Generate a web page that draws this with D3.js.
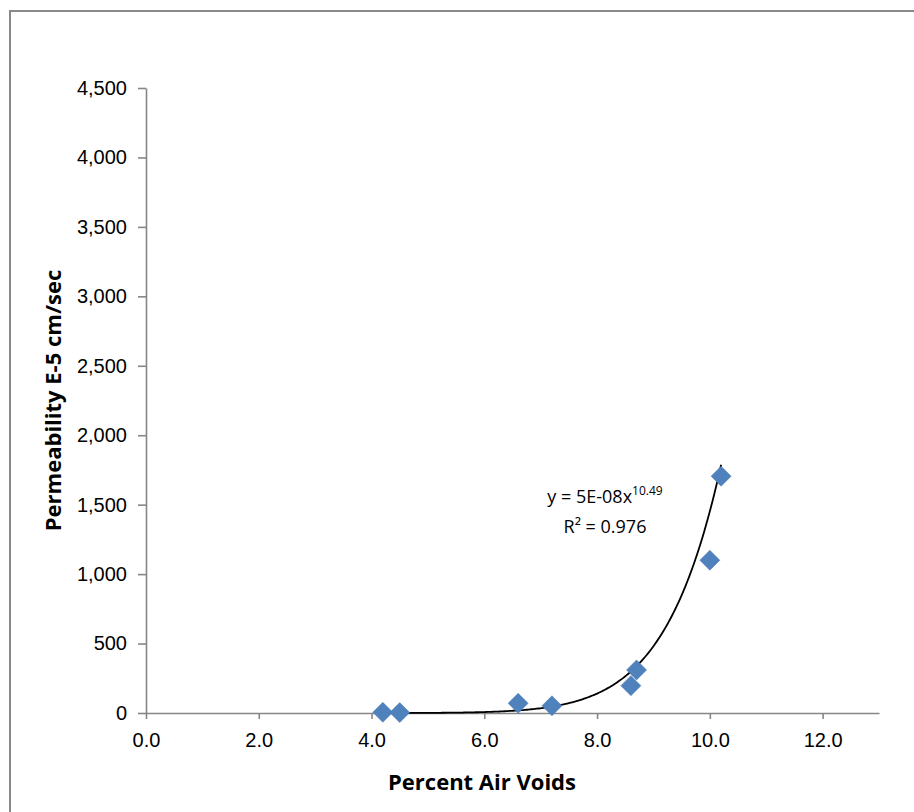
<!DOCTYPE html>
<html>
<head>
<meta charset="utf-8">
<script src="https://cdn.jsdelivr.net/npm/d3@7"></script>
<style>
  html, body { margin: 0; padding: 0; background: #fff; }
  svg { display: block; font-family: "Open Sans", Lato, sans-serif; }
</style>
</head>
<body>
<svg id="chart" width="914" height="812"></svg>
<script>
// Measured samples: percent air voids vs. permeability (E-5 cm/sec)
const airVoids     = [4.2, 4.5, 6.6, 7.2, 8.6, 8.7, 10.0, 10.2];
const permeability = [5, 3, 70, 52, 197, 310, 1100, 1705];

// Axis ticks
const xTicks = [0, 2, 4, 6, 8, 10, 12];
const yTicks = [0, 500, 1000, 1500, 2000, 2500, 3000, 3500, 4000, 4500];

// Power trendline y = a * x^b
const trendCoef = 4.7e-8;
const trendExp  = 10.49;
const trendR2   = 0.976;

const svg = d3.select("#chart");
const W = 914, H = 812;
const margin = { left: 146, right: 914 - 879, top: 88, bottom: 812 - 713 };

// Outer chart frame
svg.append("rect")
  .attr("x", 10).attr("y", 11)
  .attr("width", W + 20).attr("height", H + 20)
  .attr("fill", "#fff")
  .attr("stroke", "#898989").attr("stroke-width", 2);

const x = d3.scaleLinear().domain([0, 13]).range([margin.left, W - margin.right]);
const y = d3.scaleLinear().domain([0, 4500]).range([H - margin.bottom, margin.top]);

const axisColor = "#868686";
const tickFont = "20px";

// Y axis
const yAxis = svg.append("g")
  .attr("transform", `translate(${x(0)},0)`)
  .call(d3.axisLeft(y).tickValues(yTicks).tickSize(8).tickSizeOuter(0).tickPadding(11)
    .tickFormat(d3.format(",")));
yAxis.select(".domain").attr("stroke", axisColor).attr("stroke-width", 1.6);
yAxis.selectAll(".tick line").attr("stroke", axisColor).attr("stroke-width", 1.6);
yAxis.selectAll(".tick text").attr("fill", "#000").style("font-size", tickFont);

// X axis
const xAxis = svg.append("g")
  .attr("transform", `translate(0,${y(0)})`)
  .call(d3.axisBottom(x).tickValues(xTicks).tickSize(6).tickSizeOuter(0).tickPadding(14)
    .tickFormat(d3.format(".1f")));
xAxis.select(".domain").attr("stroke", axisColor).attr("stroke-width", 1.6);
xAxis.selectAll(".tick line").attr("stroke", axisColor).attr("stroke-width", 1.6);
xAxis.selectAll(".tick text").attr("fill", "#000").style("font-size", tickFont);

// Axis titles
svg.append("text")
  .attr("x", 482).attr("y", 790)
  .attr("text-anchor", "middle")
  .style("font-size", "22px").style("font-weight", "bold")
  .text("Percent Air Voids");

svg.append("text")
  .attr("transform", `translate(61,${(y(0) + y(4500)) / 2}) rotate(-90)`)
  .attr("text-anchor", "middle")
  .style("font-size", "22px").style("font-weight", "bold")
  .text("Permeability E-5 cm/sec");

// Trendline across the measured range
const xMin = d3.min(airVoids), xMax = d3.max(airVoids);
const trendPts = d3.range(0, 201).map(i => {
  const xv = xMin + (xMax - xMin) * i / 200;
  return [xv, trendCoef * Math.pow(xv, trendExp)];
});
svg.append("path")
  .datum(trendPts)
  .attr("fill", "none")
  .attr("stroke", "#000")
  .attr("stroke-width", 1.8)
  .attr("d", d3.line().x(d => x(d[0])).y(d => y(d[1])));

// Data markers (diamonds)
const diamond = d3.symbol().type(d3.symbolSquare).size(200);
svg.append("g")
  .selectAll("path")
  .data(airVoids.map((v, i) => [v, permeability[i]]))
  .join("path")
  .attr("d", diamond)
  .attr("transform", d => `translate(${x(d[0])},${y(d[1])}) rotate(45)`)
  .attr("fill", "#4F81BD")
  .attr("stroke", "#4a7ab3")
  .attr("stroke-width", 0.5);

// Trendline equation label
const expStr = d3.format(".0e")(trendCoef).replace("e", "E").replace(/E-(\d)$/, "E-0$1");
const eq = svg.append("text")
  .attr("x", 605).attr("y", 503)
  .attr("text-anchor", "middle")
  .style("font-size", "18px");
eq.append("tspan").text(`y = ${expStr}x`);
eq.append("tspan").attr("dy", -8).style("font-size", "12px").text(trendExp.toFixed(2));

svg.append("text")
  .attr("x", 605).attr("y", 533)
  .attr("text-anchor", "middle")
  .style("font-size", "18px")
  .text(`R² = ${trendR2.toFixed(3)}`);
</script>
</body>
</html>
